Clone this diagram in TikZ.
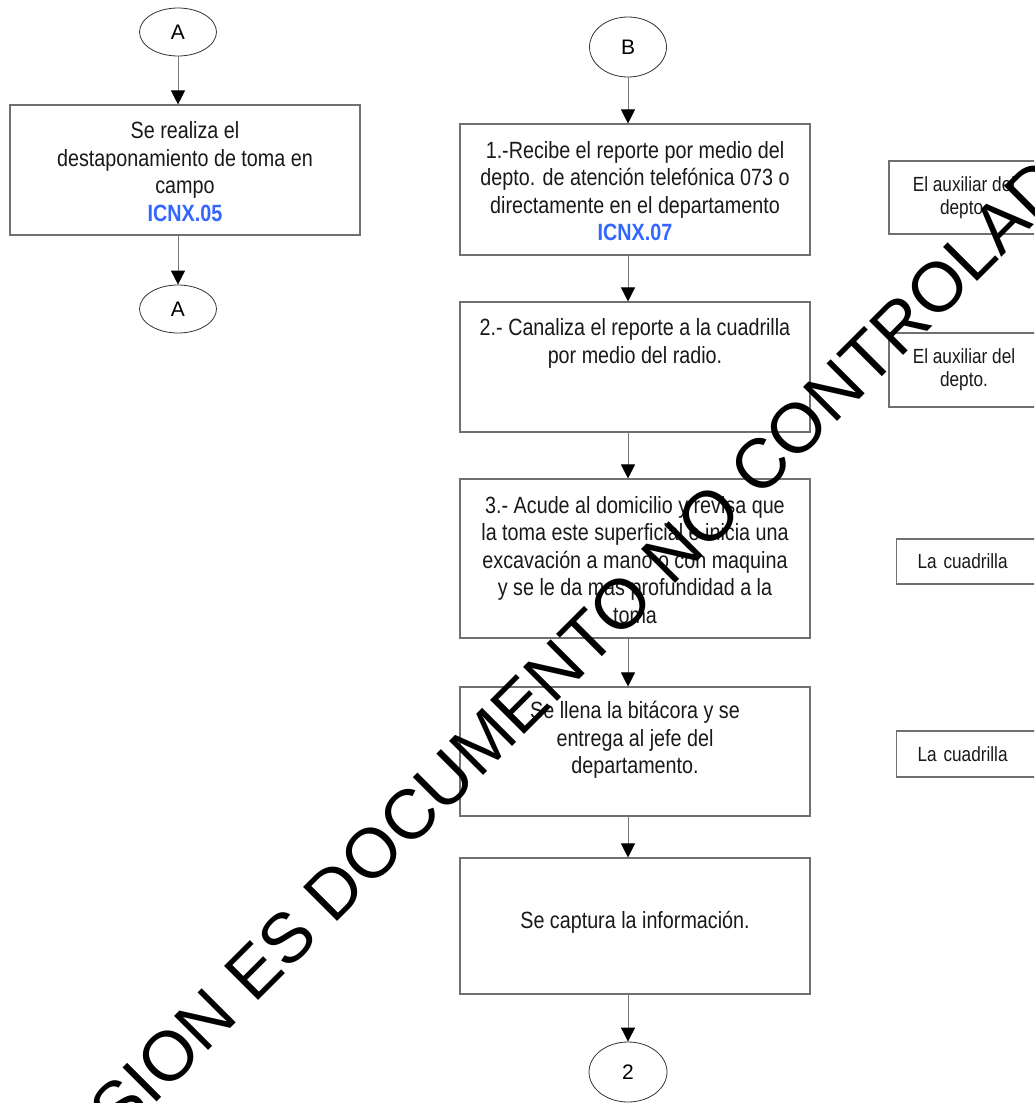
\documentclass[tikz,border=0pt]{standalone}
\usepackage{fontspec}
\setmainfont[FakeStretch=0.84]{Liberation Sans}
\newfontfamily\letrafont{Liberation Sans}
\usepackage{xcolor}
\usetikzlibrary{arrows.meta,shapes.geometric}
\definecolor{azulicnx}{RGB}{51,102,255}
\definecolor{borde}{RGB}{112,112,112}
\definecolor{linea}{RGB}{120,120,120}

\begin{document}
\begin{tikzpicture}[x=1pt,y=-1pt,
    caja/.style={draw=borde,line width=1.1pt,inner sep=0pt},
    conector/.style={draw=black!80,ellipse,line width=0.8pt,inner sep=0pt,font=\letrafont\fontsize{21}{21}\selectfont},
    texto/.style={align=center,text=black!90,font=\fontsize{23.5}{27.5}\selectfont},
    resp/.style={caja,text=black!90,font=\fontsize{20.5}{23}\selectfont},
    flecha/.style={draw=linea,line width=0.8pt,-{Triangle[color=black,width=14pt,length=14pt]}},
    marca/.style={rotate=45,anchor=base west,inner sep=0pt,font=\letrafont\fontsize{70}{70}\selectfont}]
    \path[use as bounding box,clip] (0,0) rectangle (1034,1103);
    % columna A
    \node[conector,minimum width=77pt,minimum height=48pt] (a1) at (178,32) {A};
    \node[caja,minimum width=350pt,minimum height=130pt] (c1) at (185,170) {};
    \node[texto] (t0) at (185,171.5) {Se realiza el\\destaponamiento de toma en\\campo\\\textcolor{azulicnx}{\textbf{ICNX.05}}};
    \node[conector,minimum width=77pt,minimum height=48pt] (a2) at (178,309) {A};
    % columna B
    \node[conector,minimum width=77pt,minimum height=60pt] (b) at (628,47) {B};
    \node[caja,minimum width=350pt,minimum height=131pt] (p1) at (635,189.5) {};
    \node[caja,minimum width=350pt,minimum height=130pt] (p2) at (635,367) {};
    \node[caja,minimum width=350pt,minimum height=159pt] (p3) at (635,558.5) {};
    \node[caja,minimum width=350pt,minimum height=129pt] (p4) at (635,751.5) {};
    \node[caja,minimum width=350pt,minimum height=136pt] (p5) at (635,926) {};
    \node[conector,minimum width=78pt,minimum height=60pt] (c2) at (628,1072) {2};
    \node[texto] (t1) at (635,191) {1.-Recibe el reporte por medio del\\depto. de atenci\'on telef\'onica 073 o\\directamente en el departamento\\\textcolor{azulicnx}{\textbf{ICNX.07}}};
    \node[texto] (t2) at (635,343.5) {2.- Canaliza el reporte a la cuadrilla\\por medio del radio.};
    \node[texto] (t3) at (635,560) {3.- Acude al domicilio y revisa que\\la toma este superficial e inicia una\\excavaci\'on a mano o con maquina\\y se le da mas profundidad a la\\toma};
    \node[texto] (t4) at (635,740) {Se llena la bit\'acora y se\\entrega al jefe del\\departamento.};
    \node[texto] (t5) at (635,922) {Se captura la informaci\'on.};
    % responsables
    \node[resp,minimum width=150pt,minimum height=73pt,align=center] (r1) at (964,197.5) {El auxiliar del\\depto.};
    \node[resp,minimum width=150pt,minimum height=74pt,align=center] (r2) at (964,370) {El auxiliar del\\depto.};
    \node[resp,anchor=west,minimum height=45pt,text width=140pt,inner xsep=21pt,align=left] (r3) at (896,561.5) {La cuadrilla};
    \node[resp,anchor=west,minimum height=46pt,text width=140pt,inner xsep=21pt,align=left] (r4) at (896,754) {La cuadrilla};
    \draw [flecha] (a1) -- (a1 |- c1.north);
    \draw [flecha] (c1.south -| a1) -- (a2);
    \draw [flecha] (b) -- (b |- p1.north);
    \draw [flecha] (p1.south -| b) -- (b |- p2.north);
    \draw [flecha] (p2.south -| b) -- (b |- p3.north);
    \draw [flecha] (p3.south -| b) -- (b |- p4.north);
    \draw [flecha] (p4.south -| b) -- (b |- p5.north);
    \draw [flecha] (p5.south -| b) -- (c2);
    % marca de agua
    \node[marca] (w) at (254,1005) {\llap{VERSION }ES DOCUMENTO NO CONTROLADO};
  \end{tikzpicture}
\end{document}
